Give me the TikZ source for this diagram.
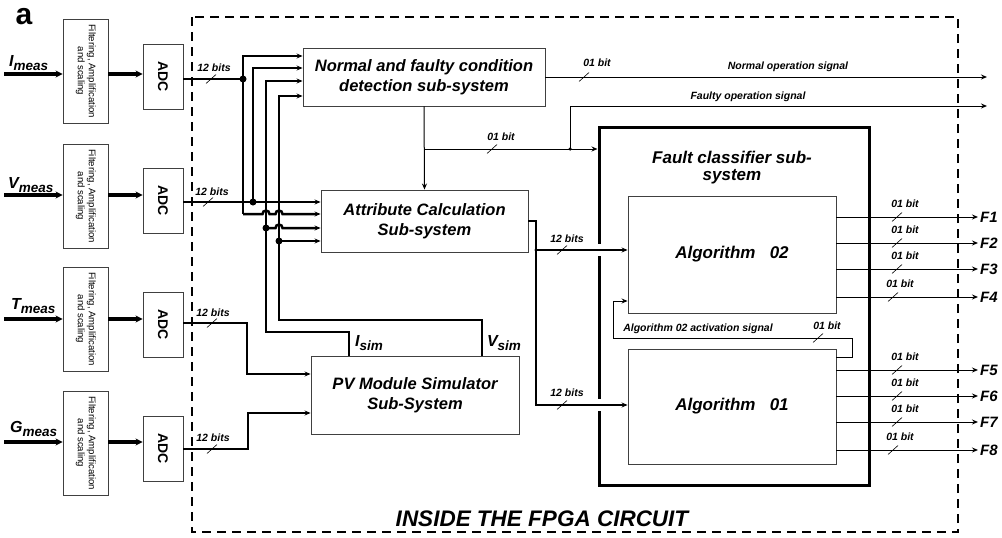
\documentclass[tikz,border=0pt]{standalone}
\usepackage{fontspec, graphicx}
\setmainfont{Liberation Sans}
\usetikzlibrary{arrows.meta, positioning}
\newcommand{\lowsub}[1]{\raisebox{-3.5pt}{\fontsize{13.5}{13.5}\selectfont #1}}
\tikzset{
  filtbox/.style={draw=black!75, line width=0.9pt, minimum width=45pt, minimum height=104pt,
                  inner sep=0pt, font=\fontsize{9.6}{11}\selectfont},
  adcbox/.style={draw=black!75, line width=0.9pt, minimum width=40pt, minimum height=65pt,
                 inner sep=0pt, font=\fontsize{14}{16}\selectfont\bfseries},
  subbox/.style={draw=black!75, line width=0.9pt, inner sep=0pt, align=center,
                 font=\fontsize{16.5}{20}\selectfont\bfseries\itshape},
  bitlbl/.style={font=\fontsize{10.5}{12}\selectfont\bfseries\itshape, inner sep=1pt},
  measlbl/.style={font=\fontsize{16}{18}\selectfont\bfseries\itshape, inner sep=0pt},
  flbl/.style={font=\fontsize{15}{17}\selectfont\bfseries\itshape, inner sep=2pt, anchor=west},
  inarrow/.style={line width=3.2pt, -{Stealth[length=7pt,width=7pt]}},
  busline/.style={line width=2.5pt},
  sigline/.style={line width=1pt},
  slash/.style={line width=0.6pt},
  jdot/.style={circle, fill=black, inner sep=0pt, minimum size=7pt},
  sdot/.style={circle, fill=black, inner sep=0pt, minimum size=3.5pt},
}

\begin{document}
\begin{tikzpicture}[x=1pt, y=-1pt, >={Stealth[length=6pt,width=5pt]}]
  \useasboundingbox (0,0) rectangle (1002,538);
  \node[font=\fontsize{30}{30}\selectfont\bfseries, inner sep=0pt] (tag) at (24,17) {a};

  % FPGA boundary
  \draw[line width=2.3pt, dash pattern=on 9pt off 6pt] (192,17) rectangle (958,532);
  \node[font=\fontsize{22.5}{24}\selectfont\bfseries\itshape] (fpga) at (542,519) {INSIDE THE FPGA CIRCUIT};

  % Signal conditioning and converters
  \node[filtbox] (fI) at (85.5,71)  {\rotatebox{-90}{\begin{tabular}{@{}c@{}}Filtering, Amplification\\and scaling\end{tabular}}};
  \node[filtbox] (fV) at (85.5,196) {\rotatebox{-90}{\begin{tabular}{@{}c@{}}Filtering, Amplification\\and scaling\end{tabular}}};
  \node[filtbox] (fT) at (85.5,319) {\rotatebox{-90}{\begin{tabular}{@{}c@{}}Filtering, Amplification\\and scaling\end{tabular}}};
  \node[filtbox] (fG) at (85.5,443) {\rotatebox{-90}{\begin{tabular}{@{}c@{}}Filtering, Amplification\\and scaling\end{tabular}}};
  \node[adcbox] (aI) at (163,76.5)  {\rotatebox{-90}{ADC}};
  \node[adcbox] (aV) at (163,200.5) {\rotatebox{-90}{ADC}};
  \node[adcbox] (aT) at (163,324.5) {\rotatebox{-90}{ADC}};
  \node[adcbox] (aG) at (163,448.5) {\rotatebox{-90}{ADC}};

  \node[measlbl, anchor=west] (mI) at (9,63)  {I\lowsub{meas}};
  \node[measlbl, anchor=west] (mV) at (8,185) {V\lowsub{meas}};
  \node[measlbl, anchor=west] (mT) at (11,306) {T\lowsub{meas}};
  \node[measlbl, anchor=west] (mG) at (10,429) {G\lowsub{meas}};

  \coordinate (iI) at (4,74);
  \coordinate (iV) at (4,195);
  \coordinate (iT) at (4,319);
  \coordinate (iG) at (4,442);
  \draw[inarrow] (iI) -- (iI -| fI.west);
  \draw[inarrow] (iV) -- (iV -| fV.west);
  \draw[inarrow] (iT) -- (iT -| fT.west);
  \draw[inarrow] (iG) -- (iG -| fG.west);
  \draw[inarrow] (fI.east |- iI) -- (aI.west |- iI);
  \draw[inarrow] (fV.east |- iV) -- (aV.west |- iV);
  \draw[inarrow] (fT.east |- iT) -- (aT.west |- iT);
  \draw[inarrow] (fG.east |- iG) -- (aG.west |- iG);

  % Sub-systems
  \node[subbox, minimum width=242pt, minimum height=58pt] (nf) at (424,77)
    {Normal and faulty condition\\detection sub-system};
  \node[subbox, minimum width=207pt, minimum height=62pt] (attr) at (424.5,221)
    {Attribute Calculation\\Sub-system};
  \node[subbox, minimum width=208pt, minimum height=78pt] (pv) at (415,395)
    {PV Module Simulator\\Sub-System};
  \node[draw, line width=3pt, minimum width=270pt, minimum height=358pt] (fc) at (734,306) {};
  \node[font=\fontsize{17}{17}\selectfont\bfseries\itshape, align=center] (fct) at (732,168)
    {Fault classifier sub-\\system};
  \node[subbox, minimum width=208pt, minimum height=117pt, font=\fontsize{17}{20}\selectfont\bfseries\itshape] (alg2) at (732,254.5)
    {Algorithm\ \ \ 02};
  \node[subbox, minimum width=208pt, minimum height=115pt, font=\fontsize{17}{20}\selectfont\bfseries\itshape] (alg1) at (732,406.5)
    {Algorithm\ \ \ 01};

  % 12-bit buses from the converters
  \node[jdot] (dI) at (243,79) {};
  \node[sdot] (dVa) at (243,202) {};
  \node[jdot] (dVb) at (253,202) {};
  \node[jdot] (dC) at (266,228) {};
  \node[jdot] (dD) at (279,241) {};
  \coordinate (nA) at (243,56);
  \coordinate (nB) at (253,68);
  \coordinate (nC) at (266,81);
  \coordinate (nD) at (279,96);
  \coordinate (tA) at (243,214);
  \coordinate (cI1) at (266,332);
  \coordinate (cI2) at (349,332);
  \coordinate (cV1) at (279,320);
  \coordinate (cV2) at (482,320);
  \draw[busline] (aI.east |- dI) -- (dI.center);
  \draw[busline,->] (aV.east |- dVb) -- (dVb -| attr.west);
  \draw[busline,->] (tA) -- (nA) -- (nA -| nf.west);
  \draw[busline,->] (dVb.center) -- (nB) -- (nB -| nf.west);
  \draw[busline,->] (cI2 |- pv.north) -- (cI2) -- (cI1) -- (nC) -- (nC -| nf.west);
  \draw[busline,->] (cV2 |- pv.north) -- (cV2) -- (cV1) -- (nD) -- (nD -| nf.west);
  \draw[busline,->] (tA) -- ++(19.5,0) arc[start angle=180, end angle=360, radius=3.5]
    -- ++(6,0) arc[start angle=180, end angle=360, radius=3.5] -- (tA -| attr.west);
  \draw[busline,->] (dC.center) -- ++(9.5,0) arc[start angle=180, end angle=360, radius=3.5]
    -- (dC -| attr.west);
  \draw[busline,->] (dD.center) -- (dD -| attr.west);
  \node[measlbl] (lIs) at (369,343) {I\lowsub{sim}};
  \node[measlbl] (lVs) at (504,343) {V\lowsub{sim}};

  \coordinate (tT1) at (247,323);
  \coordinate (tT2) at (247,374);
  \coordinate (tG1) at (248,449);
  \coordinate (tG2) at (248,413);
  \draw[busline,->] (aT.east |- tT1) -- (tT1) -- (tT2) -- (tT2 -| pv.west);
  \draw[busline,->] (aG.east |- tG1) -- (tG1) -- (tG2) -- (tG2 -| pv.west);

  \node[bitlbl] (bI) at (214,68)  {12 bits};
  \node[bitlbl] (bV) at (212,192) {12 bits};
  \node[bitlbl] (bT) at (213,313) {12 bits};
  \node[bitlbl] (bG) at (213,438) {12 bits};
  \draw[slash] (211,79)  ++(-5,4.5) -- ++(10,-9);
  \draw[slash] (208,202) ++(-5,4.5) -- ++(10,-9);
  \draw[slash] (212,323) ++(-5,4.5) -- ++(10,-9);
  \draw[slash] (212,449) ++(-5,4.5) -- ++(10,-9);

  % Detection outputs
  \coordinate (nor) at (987,77);
  \coordinate (fau) at (987,106);
  \coordinate (br) at (nf.south |- 0,149);
  \node[sdot] (dF) at (570,149) {};
  \draw[sigline,->] (nf.east) -- (nor);
  \draw[sigline,->] (nf.south) -- (attr.north);
  \draw[sigline,->] (br) -- (br -| fc.west);
  \draw[sigline,->] (dF.center) -- (dF |- fau) -- (fau);
  \node[bitlbl] (bN) at (597,63) {01 bit};
  \draw[slash] (584,77) ++(-5,4.5) -- ++(10,-9);
  \node[bitlbl] (bBr) at (501,137) {01 bit};
  \draw[slash] (492,149) ++(-5,4.5) -- ++(10,-9);
  \node[bitlbl] (tNor) at (788,67) {Normal operation signal};
  \node[bitlbl] (tFau) at (748,97) {Faulty operation signal};

  % Attributes to the classifier
  \fill[white] (594,244) rectangle (604,256);
  \fill[white] (594,399) rectangle (604,411);
  \coordinate (aO) at (536,221);
  \coordinate (aL) at (536,405);
  \node[sdot] (dA) at (536,250) {};
  \draw[busline,->] (attr.east) -- (aO) -- (dA.center) -- (dA -| alg2.west);
  \draw[busline,->] (dA.center) -- (aL) -- (aL -| alg1.west);
  \node[bitlbl] (bA2) at (567,239) {12 bits};
  \node[bitlbl] (bA1) at (567,393) {12 bits};
  \draw[slash] (562,250) ++(-5,4.5) -- ++(10,-9);
  \draw[slash] (562,405) ++(-5,4.5) -- ++(10,-9);

  % Activation of algorithm 02
  \coordinate (ac1) at (852,357);
  \coordinate (ac2) at (852,338);
  \coordinate (ac3) at (613,338);
  \coordinate (ac4) at (613,301);
  \draw[sigline,->] (alg1.east |- ac1) -- (ac1) -- (ac2) -- (ac3) -- (ac4) -- (ac4 -| alg2.west);
  \node[bitlbl] (tAct) at (698,329) {Algorithm 02 activation signal};
  \node[bitlbl] (bAct) at (827,326) {01 bit};
  \draw[slash] (818,338) ++(-5,4.5) -- ++(10,-9);

  % Fault flags
  \node[flbl] (F1) at (978,217) {F1};
  \node[flbl] (F2) at (978,243) {F2};
  \node[flbl] (F3) at (978,269) {F3};
  \node[flbl] (F4) at (978,297) {F4};
  \node[flbl] (F5) at (978,370) {F5};
  \node[flbl] (F6) at (978,396) {F6};
  \node[flbl] (F7) at (978,422) {F7};
  \node[flbl] (F8) at (978,450) {F8};
  \draw[sigline,->] (alg2.east |- F1) -- (F1.west);
  \draw[sigline,->] (alg2.east |- F2) -- (F2.west);
  \draw[sigline,->] (alg2.east |- F3) -- (F3.west);
  \draw[sigline,->] (alg2.east |- F4) -- (F4.west);
  \draw[sigline,->] (alg1.east |- F5) -- (F5.west);
  \draw[sigline,->] (alg1.east |- F6) -- (F6.west);
  \draw[sigline,->] (alg1.east |- F7) -- (F7.west);
  \draw[sigline,->] (alg1.east |- F8) -- (F8.west);
  \node[bitlbl] (b1) at (905,204) {01 bit};
  \node[bitlbl] (b2) at (905,230) {01 bit};
  \node[bitlbl] (b3) at (905,256) {01 bit};
  \node[bitlbl] (b4) at (900,284) {01 bit};
  \node[bitlbl] (b5) at (905,357) {01 bit};
  \node[bitlbl] (b6) at (905,383) {01 bit};
  \node[bitlbl] (b7) at (905,409) {01 bit};
  \node[bitlbl] (b8) at (900,437) {01 bit};
  \draw[slash] (897,217) ++(-5,4.5) -- ++(10,-9);
  \draw[slash] (897,243) ++(-5,4.5) -- ++(10,-9);
  \draw[slash] (897,269) ++(-5,4.5) -- ++(10,-9);
  \draw[slash] (893,297) ++(-5,4.5) -- ++(10,-9);
  \draw[slash] (897,370) ++(-5,4.5) -- ++(10,-9);
  \draw[slash] (897,396) ++(-5,4.5) -- ++(10,-9);
  \draw[slash] (897,422) ++(-5,4.5) -- ++(10,-9);
  \draw[slash] (893,450) ++(-5,4.5) -- ++(10,-9);
\end{tikzpicture}
\end{document}
